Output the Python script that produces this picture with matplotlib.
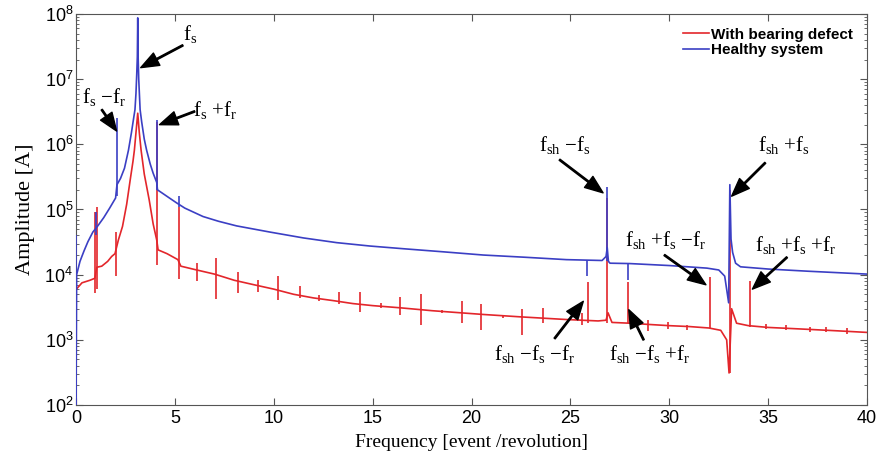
import matplotlib
matplotlib.use("Agg")
import matplotlib.pyplot as plt
from matplotlib.ticker import FixedLocator, LogLocator, FuncFormatter, NullFormatter
import numpy as np

plt.rcParams['mathtext.fontset'] = 'custom'
plt.rcParams['mathtext.rm'] = 'Liberation Serif'
plt.rcParams['mathtext.it'] = 'Liberation Serif:italic'
plt.rcParams['mathtext.sf'] = 'Liberation Sans'

# ---------------- data ----------------
# Healthy system: spectrum envelope
healthy_freq = [0.0, 0.03, 0.2, 0.4, 0.6, 0.85, 1.1, 1.4, 1.7, 2.0, 2.07, 2.25, 2.45, 2.65, 2.8,
                2.92, 2.98, 3.03, 3.07, 3.1, 3.12, 3.14, 3.17, 3.24, 3.32, 3.45, 3.57, 3.75, 3.9,
                4.08, 4.12, 4.4, 4.75, 5.09, 5.5, 6.42, 7.2, 8.12, 9.81, 11.5, 13.18, 14.86,
                16.55, 18.5, 20.6, 22.7, 24.8, 26.6, 26.8, 26.86, 26.92, 27.0, 28.0, 30.0, 31.9,
                32.5, 32.8, 33.0, 33.06, 33.12, 33.2, 33.35, 33.6, 35.0, 37.0, 40.0]
healthy_amp = [1.0e2, 1.0e4, 1.6e4, 2.3e4, 3.2e4, 4.5e4, 5.6e4, 7.5e4, 1.05e5, 1.5e5, 2.4e5, 3.0e5,
               4.3e5, 8.1e5, 1.5e6, 2.6e6, 3.4e6, 6.0e6, 1.2e7, 2.2e7, 8.7e7, 2.2e7, 1.0e7, 3.4e6,
               2.2e6, 1.2e6, 8.1e5, 5.0e5, 3.6e5, 2.6e5, 2.0e5, 1.75e5, 1.48e5, 1.26e5, 1.05e5,
               7.8e4, 6.6e4, 5.6e4, 4.5e4, 3.66e4, 3.1e4, 2.75e4, 2.5e4, 2.25e4, 2.0e4, 1.85e4,
               1.7e4, 1.65e4, 1.9e4, 2.6e4, 1.6e4, 1.5e4, 1.48e4, 1.38e4, 1.26e4, 1.18e4, 9.5e3,
               3.7e3, 2.4e5, 3.5e4, 2.2e4, 1.5e4, 1.32e4, 1.22e4, 1.13e4, 1.02e4]
# Healthy system: narrow spectral lines (frequency, low, high)
healthy_line_freq = [0.0, 1.02, 2.06, 4.11, 5.2, 25.85, 26.86, 27.9]
healthy_line_low = [1.0e2, 4.0e4, 1.6e5, 2.0e5, 1.1e5, 9.4e3, 1.6e4, 8.3e3]
healthy_line_high = [4.0e4, 9.0e4, 2.5e6, 2.4e6, 1.6e5, 1.65e4, 2.2e5, 1.5e4]

# With bearing defect: spectrum envelope
defect_freq = [0.02, 0.3, 0.7, 0.95, 1.05, 1.3, 1.6, 1.8, 1.97, 2.14, 2.35, 2.56, 2.75, 2.88, 2.95,
               3.03, 3.12, 3.2, 3.29, 3.45, 3.7, 3.9, 4.08, 4.15, 4.6, 5.15, 5.3, 6, 7, 8, 9, 10,
               11, 12, 13, 14, 15, 16.4, 18, 20.6, 22.5, 24.8, 26.4, 26.8, 26.9, 27.1, 28, 29,
               30, 31, 32, 32.6, 32.9, 33.02, 33.15, 33.4, 34, 35, 36, 37, 38, 39, 40]
defect_amp = [6.0e3, 7.5e3, 8.2e3, 8.8e3, 1.3e4, 1.35e4, 1.6e4, 1.9e4, 2.1e4, 3.4e4, 5.5e4, 1.2e5,
              3.0e5, 5.5e5, 8.1e5, 1.5e6, 3.0e6, 1.5e6, 8.1e5, 3.5e5, 1.4e5, 6.0e4, 3.4e4, 2.4e4,
              2.1e4, 1.7e4, 1.35e4, 1.2e4, 1.02e4, 8.2e3, 7.0e3, 6.0e3, 5.0e3, 4.4e3, 4.0e3,
              3.6e3, 3.35e3, 3.1e3, 2.8e3, 2.45e3, 2.25e3, 2.05e3, 1.95e3, 2.0e3, 2.6e3, 1.85e3,
              1.8e3, 1.72e3, 1.65e3, 1.6e3, 1.52e3, 1.4e3, 1.0e3, 3.1e2, 3.0e3, 1.8e3, 1.65e3,
              1.55e3, 1.5e3, 1.45e3, 1.4e3, 1.35e3, 1.3e3]
# With bearing defect: narrow spectral lines (frequency, low, high)
defect_line_freq = [0.0, 0.95, 1.05, 2.0, 4.11, 5.2, 6.1, 7.1, 8.2, 9.2, 10.2, 11.3, 12.3, 13.3,
                    14.35, 15.4, 16.4, 17.45, 18.5, 19.5, 20.5, 21.6, 22.55, 23.6, 25.6, 25.87,
                    26.86, 27.9, 28.9, 29.95, 30.9, 32.05, 33.06, 34.1, 34.9, 35.9, 37.1, 37.9, 39.0]
defect_line_low = [5.5e3, 5.2e3, 6.0e3, 9.5e3, 1.4e4, 8.5e3, 8.0e3, 4.2e3, 5.3e3, 5.5e3, 4.1e3,
                   4.4e3, 3.9e3, 3.6e3, 2.7e3, 3.1e3, 2.4e3, 1.7e3, 2.6e3, 1.8e3, 1.4e3, 2.2e3,
                   1.2e3, 1.8e3, 1.7e3, 1.8e3, 1.8e3, 1.8e3, 1.35e3, 1.45e3, 1.4e3, 1.5e3, 3.1e2,
                   1.6e3, 1.45e3, 1.4e3, 1.3e3, 1.3e3, 1.25e3]
defect_line_high = [1.5e5, 9.0e4, 1.1e5, 4.5e4, 2.2e6, 1.1e5, 1.5e4, 1.8e4, 1.1e4, 8.3e3, 9.6e3,
                    6.6e3, 4.8e3, 5.5e3, 5.5e3, 3.7e3, 4.6e3, 5.0e3, 2.9e3, 3.9e3, 3.6e3, 2.4e3,
                    3.0e3, 3.1e3, 2.6e3, 7.8e3, 1.5e5, 7.8e3, 2.0e3, 1.9e3, 1.7e3, 9.2e3, 2.0e5,
                    8.0e3, 1.75e3, 1.7e3, 1.6e3, 1.55e3, 1.5e3]

x_ticks = [0, 5, 10, 15, 20, 25, 30, 35, 40]
y_ticks = [1e2, 1e3, 1e4, 1e5, 1e6, 1e7, 1e8]

# annotations: (label, text position, arrow head position)
annotations = [
    (r"$\mathrm{f_s}$", (5.75, 5.0e7), (3.27, 1.5e7)),
    (r"$\mathrm{f_s\ {-}f_r}$", (1.4, 5.4e6), (2.05, 1.6e6)),
    (r"$\mathrm{f_s\ {+}f_r}$", (7.05, 3.4e6), (4.22, 2.0e6)),
    (r"$\mathrm{f_{sh}\ {-}f_s}$", (24.7, 9.8e5), (26.65, 1.8e5)),
    (r"$\mathrm{f_{sh}\ {+}f_s}$", (35.8, 9.8e5), (33.15, 1.6e5)),
    (r"$\mathrm{f_{sh}\ {+}f_s\ {-}f_r}$", (29.8, 3.4e4), (31.85, 7.0e3)),
    (r"$\mathrm{f_{sh}\ {+}f_s\ {+}f_r}$", (36.4, 2.9e4), (34.2, 6.0e3)),
    (r"$\mathrm{f_{sh}\ {-}f_s\ {-}f_r}$", (23.2, 6.0e2), (25.65, 3.9e3)),
    (r"$\mathrm{f_{sh}\ {-}f_s\ {+}f_r}$", (29.0, 6.0e2), (27.95, 2.9e3)),
]
arrow_tails = [(5.4, 3.3e7), (1.3, 3.4e6), (6.0, 3.2e6), (24.45, 5.8e5), (34.85, 5.2e5),
               (29.75, 2.0e4), (35.95, 1.85e4), (24.2, 1.05e3), (28.7, 1.0e3)]

RED = '#e3262b'
BLUE = '#3b3fc4'

fig = plt.figure(figsize=(8.77, 4.59), dpi=100)
ax = fig.add_axes([0.0867, 0.1176, 0.902, 0.852])

ax.plot(defect_freq, defect_amp, color=RED, lw=1.2, label='With bearing defect', zorder=2)
ax.vlines(defect_line_freq, defect_line_low, defect_line_high, color=RED, lw=1.2, zorder=2)
ax.plot(healthy_freq, healthy_amp, color=BLUE, lw=1.2, label='Healthy system', zorder=3)
ax.vlines(healthy_line_freq, healthy_line_low, healthy_line_high, color=BLUE, lw=1.2, zorder=3)

ax.set_yscale('log')
ax.set_xlim(0, 40)
ax.set_ylim(1e2, 1e8)
ax.xaxis.set_major_locator(FixedLocator(x_ticks))
ax.yaxis.set_major_locator(FixedLocator(y_ticks))
ax.yaxis.set_minor_locator(LogLocator(base=10, subs=np.arange(2, 10)))
ax.yaxis.set_minor_formatter(NullFormatter())
ax.yaxis.set_major_formatter(FuncFormatter(lambda v, p: r"$\mathsf{10^{%d}}$" % round(np.log10(v))))
ax.tick_params(which='both', direction='in', top=True, right=True, colors='#555555',
               labelcolor='black', labelsize=13)
ax.tick_params(which='major', length=5)
ax.tick_params(which='minor', length=2.5)
ax.tick_params(axis='y', pad=2)
for lab in ax.get_xticklabels():
    lab.set_family('Liberation Sans')
for s in ax.spines.values():
    s.set_color('#555555')

ax.set_xlabel('Frequency [event /revolution]', family='Liberation Serif', fontsize=14, labelpad=5)
ax.set_ylabel('Amplitude [A]', family='Liberation Serif', fontsize=16, labelpad=7)

for (label, txt, head), tail in zip(annotations, arrow_tails):
    ax.annotate('', xy=head, xytext=tail,
                arrowprops=dict(facecolor='black', edgecolor='black', width=1.0,
                                headwidth=10, headlength=13, shrink=0), zorder=5)
    ax.text(txt[0], txt[1], label, fontsize=15, ha='center', va='center', zorder=5)

leg = ax.legend(loc='upper right', frameon=False,
                prop={'family': 'Liberation Sans', 'weight': 'bold', 'size': 11},
                handlelength=1.7, handletextpad=0.15, labelspacing=0.1, borderaxespad=0.5)

fig.savefig('out.png', dpi=100)
